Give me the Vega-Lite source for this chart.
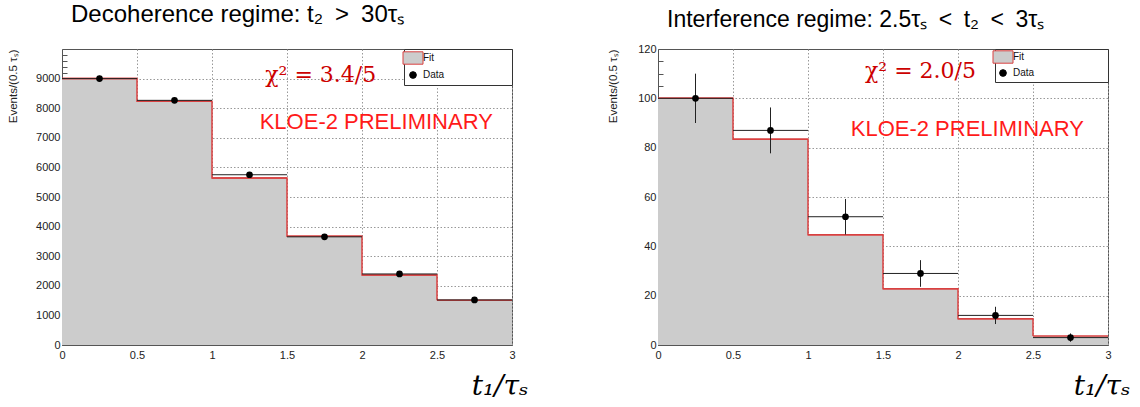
{
  "$schema": "https://vega.github.io/schema/vega-lite/v6.json",
  "background": "white",
  "padding": {"left": 6, "top": 2, "right": 2, "bottom": 2},
  "bounds": "full",
  "spacing": 77,
  "config": {
    "font": "Liberation Sans",
    "view": {"stroke": "#555555", "strokeWidth": 1},
    "axis": {
      "labelFont": "Liberation Sans",
      "labelFontSize": 11,
      "labelColor": "#222222",
      "domainColor": "#555555",
      "gridColor": "#999999",
      "gridDash": [1.5, 2],
      "gridWidth": 1,
      "labelFlush": false,
      "labelOverlap": false,
      "zindex": 1
    },
    "title": {"font": "Liberation Sans", "fontWeight": "normal", "color": "#000000"}
  },
  "datasets": {
    "left": [
      {"lo": 0, "hi": 0.5, "t": 0.25, "fit": 9000, "n": 9000, "err": 95},
      {"lo": 0.5, "hi": 1, "t": 0.75, "fit": 8232, "n": 8265, "err": 91},
      {"lo": 1, "hi": 1.5, "t": 1.25, "fit": 5640, "n": 5752, "err": 76},
      {"lo": 1.5, "hi": 2, "t": 1.75, "fit": 3678, "n": 3654, "err": 60},
      {"lo": 2, "hi": 2.5, "t": 2.25, "fit": 2368, "n": 2400, "err": 49},
      {"lo": 2.5, "hi": 3, "t": 2.75, "fit": 1515, "n": 1523, "err": 39}
    ],
    "right": [
      {"lo": 0, "hi": 0.5, "t": 0.25, "fit": 100, "n": 100, "err": 10},
      {"lo": 0.5, "hi": 1, "t": 0.75, "fit": 83.4, "n": 87, "err": 9.3},
      {"lo": 1, "hi": 1.5, "t": 1.25, "fit": 44.7, "n": 52, "err": 7.2},
      {"lo": 1.5, "hi": 2, "t": 1.75, "fit": 22.8, "n": 29, "err": 5.4},
      {"lo": 2, "hi": 2.5, "t": 2.25, "fit": 10.6, "n": 12, "err": 3.5},
      {"lo": 2.5, "hi": 3, "t": 2.75, "fit": 3.6, "n": 3, "err": 1.7}
    ]
  },
  "resolve": {"scale": {"color": "independent"}, "legend": {"color": "independent"}},
  "hconcat": [
    {
      "width": 450,
      "height": 296,
      "title": {"text": "Decoherence regime: t₂\u2002>\u200230τₛ", "anchor": "start", "frame": "group", "dx": 9, "baseline": "alphabetic", "offset": 2.5, "fontSize": 24},
      "data": {"name": "left"},
      "layer": [
        {
          "mark": {"type": "rect"},
          "encoding": {
            "x": {"field": "lo", "type": "quantitative", "title": "t₁/τₛ", "scale": {"domain": [0, 3], "nice": false, "zero": false},
              "axis": {"values": [0, 0.5, 1, 1.5, 2, 2.5, 3], "tickCount": 20, "format": "~g", "ticks": false, "labelPadding": 4,
                "titleFont": "DejaVu Serif", "titleFontStyle": "italic", "titleFontWeight": "normal", "titleFontSize": 28, "titleColor": "#000000",
                "titleAlign": "right", "titleBaseline": "alphabetic", "titleX": 466, "titleY": 49}},
            "x2": {"field": "hi"},
            "y": {"field": "fit", "type": "quantitative", "title": "Events/(0.5 τₛ)", "scale": {"domain": [0, 10000], "nice": false},
              "axis": {"values": [0, 1000, 2000, 3000, 4000, 5000, 6000, 7000, 8000, 9000, 9200, 9400, 9600, 9800], "tickCount": 30,
                "format": "d", "labelExpr": "datum.value % 1000 === 0 ? datum.label : ''",
                "gridOpacity": {"condition": {"test": "datum.value % 1000 === 0 && datum.value > 0", "value": 1}, "value": 0},
                "tickSize": -5, "tickColor": "#555555",
                "tickOpacity": {"condition": {"test": "datum.value > 9000", "value": 1}, "value": 0},
                "labelPadding": 7,
                "titleFontSize": 11.5, "titleFontWeight": "normal", "titleColor": "#222222",
                "titleAnchor": "end", "titleX": -44}},
            "y2": {"datum": 0},
            "color": {"datum": "Fit", "type": "nominal", "scale": {"domain": ["Fit", "Data"], "range": ["#cccccc", "#000000"]},
              "legend": {"title": null, "orient": "top-right", "offset": 0, "padding": 4, "strokeColor": "#333333", "fillColor": "white",
                "labelFontSize": 10, "labelFont": "Liberation Sans", "labelColor": "#111111", "symbolSize": 400, "labelOffset": 5, "rowPadding": 2,
                "labelExpr": "datum.label + '\u2800\u2800\u2800\u2800\u2800\u2800\u2800\u2800\u2800'",
                "encode": {"symbols": {"update": {
                  "shape": {"signal": "datum.value === 'Fit' ? 'M-1,-0.62H1V0.62H-1Z' : 'circle'"},
                  "size": {"signal": "datum.value === 'Fit' ? 400 : 45"},
                  "fill": {"signal": "datum.value === 'Fit' ? '#cccccc' : '#000000'"},
                  "stroke": {"signal": "datum.value === 'Fit' ? '#d94040' : '#000000'"},
                  "strokeWidth": {"value": 1},
                  "opacity": {"value": 1}}}}}}
          }
        },
        {
          "mark": {"type": "line", "interpolate": "step-after", "color": "#d94040", "strokeWidth": 1.5},
          "encoding": {"x": {"field": "lo", "type": "quantitative", "title": "t₁/τₛ"}, "y": {"field": "fit", "type": "quantitative", "title": "Events/(0.5 τₛ)"}}
        },
        {
          "mark": {"type": "rule", "color": "#d94040", "strokeWidth": 1.5},
          "encoding": {"x": {"field": "lo", "type": "quantitative", "title": "t₁/τₛ"}, "x2": {"field": "hi"}, "y": {"field": "fit", "type": "quantitative", "title": "Events/(0.5 τₛ)"}}
        },
        {
          "mark": {"type": "rule", "color": "#222222", "strokeWidth": 1},
          "encoding": {"x": {"field": "lo", "type": "quantitative", "title": "t₁/τₛ"}, "x2": {"field": "hi"}, "y": {"field": "n", "type": "quantitative", "title": "Events/(0.5 τₛ)"}}
        },
        {
          "mark": {"type": "errorbar", "color": "#222222", "thickness": 1},
          "encoding": {"x": {"field": "t", "type": "quantitative", "title": "t₁/τₛ"}, "y": {"field": "n", "type": "quantitative", "title": "Events/(0.5 τₛ)"}, "yError": {"field": "err"}}
        },
        {
          "mark": {"type": "point", "filled": true, "size": 45, "opacity": 1},
          "encoding": {"x": {"field": "t", "type": "quantitative", "title": "t₁/τₛ"}, "y": {"field": "n", "type": "quantitative", "title": "Events/(0.5 τₛ)"},
            "color": {"datum": "Data", "type": "nominal"}}
        },
        {
          "data": {"values": [{"label": "χ² = 3.4/5"}]},
          "mark": {"type": "text", "font": "DejaVu Serif", "fontSize": 22, "color": "#cc0000", "align": "center", "baseline": "alphabetic"},
          "encoding": {"text": {"field": "label"}, "x": {"datum": 1.725, "type": "quantitative"}, "y": {"datum": 8888, "type": "quantitative"}}
        },
        {
          "data": {"values": [{"label": "KLOE-2 PRELIMINARY"}]},
          "mark": {"type": "text", "font": "Liberation Sans", "fontSize": 22, "color": "#ff1a1a", "align": "center", "baseline": "alphabetic"},
          "encoding": {"text": {"field": "label"}, "x": {"datum": 2.095, "type": "quantitative"}, "y": {"datum": 7284, "type": "quantitative"}}
        }
      ]
    },
    {
      "width": 450,
      "height": 296,
      "title": {"text": "Interference regime: 2.5τₛ\u2002<\u2002t₂\u2002<\u20023τₛ", "anchor": "start", "frame": "group", "dx": 9, "baseline": "alphabetic", "offset": -6.5, "fontSize": 23},
      "data": {"name": "right"},
      "layer": [
        {
          "mark": {"type": "rect"},
          "encoding": {
            "x": {"field": "lo", "type": "quantitative", "title": "t₁/τₛ", "scale": {"domain": [0, 3], "nice": false, "zero": false},
              "axis": {"values": [0, 0.5, 1, 1.5, 2, 2.5, 3], "tickCount": 20, "format": "~g", "ticks": false, "labelPadding": 4,
                "titleFont": "DejaVu Serif", "titleFontStyle": "italic", "titleFontWeight": "normal", "titleFontSize": 28, "titleColor": "#000000",
                "titleAlign": "right", "titleBaseline": "alphabetic", "titleX": 472, "titleY": 49}},
            "x2": {"field": "hi"},
            "y": {"field": "fit", "type": "quantitative", "title": "Events/(0.5 τₛ)", "scale": {"domain": [0, 120], "nice": false},
              "axis": {"values": [0, 20, 40, 60, 80, 100, 105, 110, 115, 120], "tickCount": 30,
                "format": "d", "labelExpr": "datum.value % 20 === 0 ? datum.label : ''",
                "gridOpacity": {"condition": {"test": "datum.value % 20 === 0 && datum.value > 0 && datum.value < 120", "value": 1}, "value": 0},
                "tickSize": -5, "tickColor": "#555555",
                "tickOpacity": {"condition": {"test": "datum.value > 100 && datum.value < 120", "value": 1}, "value": 0},
                "labelPadding": 7,
                "titleFontSize": 11.5, "titleFontWeight": "normal", "titleColor": "#222222",
                "titleAnchor": "end", "titleX": -40}},
            "y2": {"datum": 0},
            "color": {"datum": "Fit", "type": "nominal", "scale": {"domain": ["Fit", "Data"], "range": ["#cccccc", "#000000"]},
              "legend": {"title": null, "orient": "top-right", "offset": 0, "padding": 3, "strokeColor": "#333333", "fillColor": "white",
                "labelFontSize": 10, "labelFont": "Liberation Sans", "labelColor": "#111111", "symbolSize": 400, "labelOffset": 5, "rowPadding": 1,
                "labelExpr": "datum.label + '\u2800\u2800\u2800\u2800\u2800\u2800\u2800\u2800\u2800\u2800'",
                "encode": {"symbols": {"update": {
                  "shape": {"signal": "datum.value === 'Fit' ? 'M-1,-0.62H1V0.62H-1Z' : 'circle'"},
                  "size": {"signal": "datum.value === 'Fit' ? 400 : 45"},
                  "fill": {"signal": "datum.value === 'Fit' ? '#cccccc' : '#000000'"},
                  "stroke": {"signal": "datum.value === 'Fit' ? '#d94040' : '#000000'"},
                  "strokeWidth": {"value": 1},
                  "opacity": {"value": 1}}}}}}
          }
        },
        {
          "mark": {"type": "line", "interpolate": "step-after", "color": "#d94040", "strokeWidth": 1.5},
          "encoding": {"x": {"field": "lo", "type": "quantitative", "title": "t₁/τₛ"}, "y": {"field": "fit", "type": "quantitative", "title": "Events/(0.5 τₛ)"}}
        },
        {
          "mark": {"type": "rule", "color": "#d94040", "strokeWidth": 1.5},
          "encoding": {"x": {"field": "lo", "type": "quantitative", "title": "t₁/τₛ"}, "x2": {"field": "hi"}, "y": {"field": "fit", "type": "quantitative", "title": "Events/(0.5 τₛ)"}}
        },
        {
          "mark": {"type": "rule", "color": "#222222", "strokeWidth": 1},
          "encoding": {"x": {"field": "lo", "type": "quantitative", "title": "t₁/τₛ"}, "x2": {"field": "hi"}, "y": {"field": "n", "type": "quantitative", "title": "Events/(0.5 τₛ)"}}
        },
        {
          "mark": {"type": "errorbar", "color": "#222222", "thickness": 1},
          "encoding": {"x": {"field": "t", "type": "quantitative", "title": "t₁/τₛ"}, "y": {"field": "n", "type": "quantitative", "title": "Events/(0.5 τₛ)"}, "yError": {"field": "err"}}
        },
        {
          "mark": {"type": "point", "filled": true, "size": 45, "opacity": 1},
          "encoding": {"x": {"field": "t", "type": "quantitative", "title": "t₁/τₛ"}, "y": {"field": "n", "type": "quantitative", "title": "Events/(0.5 τₛ)"},
            "color": {"datum": "Data", "type": "nominal"}}
        },
        {
          "data": {"values": [{"label": "χ² = 2.0/5"}]},
          "mark": {"type": "text", "font": "DejaVu Serif", "fontSize": 22, "color": "#cc0000", "align": "center", "baseline": "alphabetic"},
          "encoding": {"text": {"field": "label"}, "x": {"datum": 1.75, "type": "quantitative"}, "y": {"datum": 108.4, "type": "quantitative"}}
        },
        {
          "data": {"values": [{"label": "KLOE-2 PRELIMINARY"}]},
          "mark": {"type": "text", "font": "Liberation Sans", "fontSize": 22, "color": "#ff1a1a", "align": "center", "baseline": "alphabetic"},
          "encoding": {"text": {"field": "label"}, "x": {"datum": 2.062, "type": "quantitative"}, "y": {"datum": 84.9, "type": "quantitative"}}
        }
      ]
    }
  ]
}
